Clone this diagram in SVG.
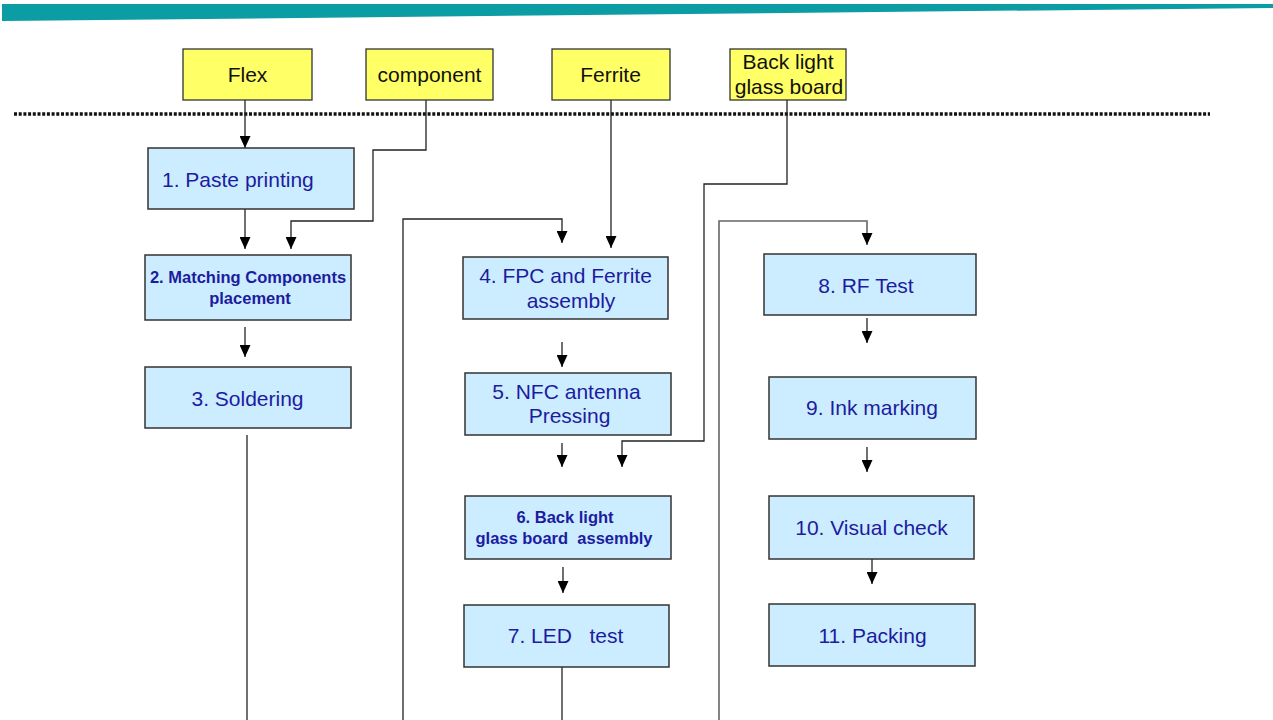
<svg xmlns="http://www.w3.org/2000/svg" width="1273" height="720" viewBox="0 0 1273 720">
<style>
.bar{fill:#0B9CA4}
.src rect{fill:#FFFF66;stroke:#333;stroke-width:1.3}
.src text{font-family:"Liberation Sans",Arial,sans-serif;font-size:21px;fill:#111;text-anchor:middle}
.step rect{fill:#CCECFF;stroke:#333;stroke-width:1.5}
.step text{font-family:"Liberation Sans",Arial,sans-serif;font-size:21px;fill:#1C1CA0;text-anchor:middle;white-space:pre}
.step text.sm{font-size:16.5px;font-weight:bold}
.conn path{fill:none;stroke:#222;stroke-width:1.3}
.conn path.gray{stroke:#666;stroke-width:1.6}
.conn path.arr{marker-end:url(#ah)}
</style>
<defs>
<marker id="ah" markerUnits="userSpaceOnUse" markerWidth="12" markerHeight="11" viewBox="0 0 12 11" refX="12" refY="5.5" orient="auto">
<path d="M0,0 L12,5.5 L0,11 Z" fill="#000"/>
</marker>
</defs>
<polygon class="bar" points="2,4 1273,4 1273,8 2,21"/>
<line x1="14" y1="114" x2="1210" y2="114" stroke="#111" stroke-width="3.5" stroke-dasharray="3 1.7"/>

<g class="conn" id="connectors">
<path class="arr" d="M245,100 V148"/>
<path class="arr" d="M426,100 V150 H373 V221 H291 V249"/>
<path class="arr" d="M611,100 V248"/>
<path class="arr" d="M787,100 V184 H704 V441 H622 V467"/>
<path class="arr" d="M245,209 V249"/>
<path class="arr" d="M245,327 V357"/>
<path d="M247,435 V720"/>
<path class="arr" d="M403,720 V219 H562 V243"/>
<path class="arr" d="M562,342 V367"/>
<path class="arr" d="M562,443 V467"/>
<path class="arr" d="M563,567 V593"/>
<path d="M562,667 V720"/>
<path class="arr gray" d="M719,720 V221 H867 V245"/>
<path class="arr" d="M867,318 V343"/>
<path class="arr" d="M867,447 V472"/>
<path class="arr" d="M872,559 V584"/>
</g>

<g class="src" id="flex"><rect x="183" y="49" width="129" height="51"/><text x="247.5" y="82">Flex</text></g>
<g class="src" id="component"><rect x="366" y="49" width="127" height="51"/><text x="429.5" y="82">component</text></g>
<g class="src" id="ferrite"><rect x="552" y="49" width="118" height="51"/><text x="610.5" y="82">Ferrite</text></g>
<g class="src" id="backlight"><rect x="730" y="49" width="116" height="51"/><text x="788" y="69">Back light</text><text x="789" y="94">glass board</text></g>

<g class="step" id="s1"><rect x="148" y="148" width="206" height="61"/><text x="162" y="187" style="text-anchor:start">1. Paste printing</text></g>
<g class="step" id="s2"><rect x="145" y="255" width="206" height="65"/><text class="sm" x="248" y="283">2. Matching Components</text><text class="sm" x="250" y="304">placement</text></g>
<g class="step" id="s3"><rect x="145" y="367" width="206" height="61"/><text x="247.5" y="406">3. Soldering</text></g>
<g class="step" id="s4"><rect x="463" y="257" width="205" height="62"/><text x="565.5" y="283">4. FPC and Ferrite</text><text x="571" y="308">assembly</text></g>
<g class="step" id="s5"><rect x="465" y="373" width="206" height="62"/><text x="566.5" y="399">5. NFC antenna</text><text x="569.5" y="423">Pressing</text></g>
<g class="step" id="s6"><rect x="465" y="496" width="206" height="63"/><text class="sm" x="565" y="523">6. Back light</text><text class="sm" x="564" y="544">glass board  assembly</text></g>
<g class="step" id="s7"><rect x="464" y="605" width="205" height="62"/><text x="565.5" y="643">7. LED   test</text></g>
<g class="step" id="s8"><rect x="764" y="254" width="212" height="61"/><text x="866" y="293">8. RF Test</text></g>
<g class="step" id="s9"><rect x="769" y="377" width="207" height="62"/><text x="872" y="415">9. Ink marking</text></g>
<g class="step" id="s10"><rect x="769" y="496" width="205" height="63"/><text x="871.5" y="535">10. Visual check</text></g>
<g class="step" id="s11"><rect x="769" y="604" width="206" height="62"/><text x="872.5" y="643">11. Packing</text></g>
</svg>
